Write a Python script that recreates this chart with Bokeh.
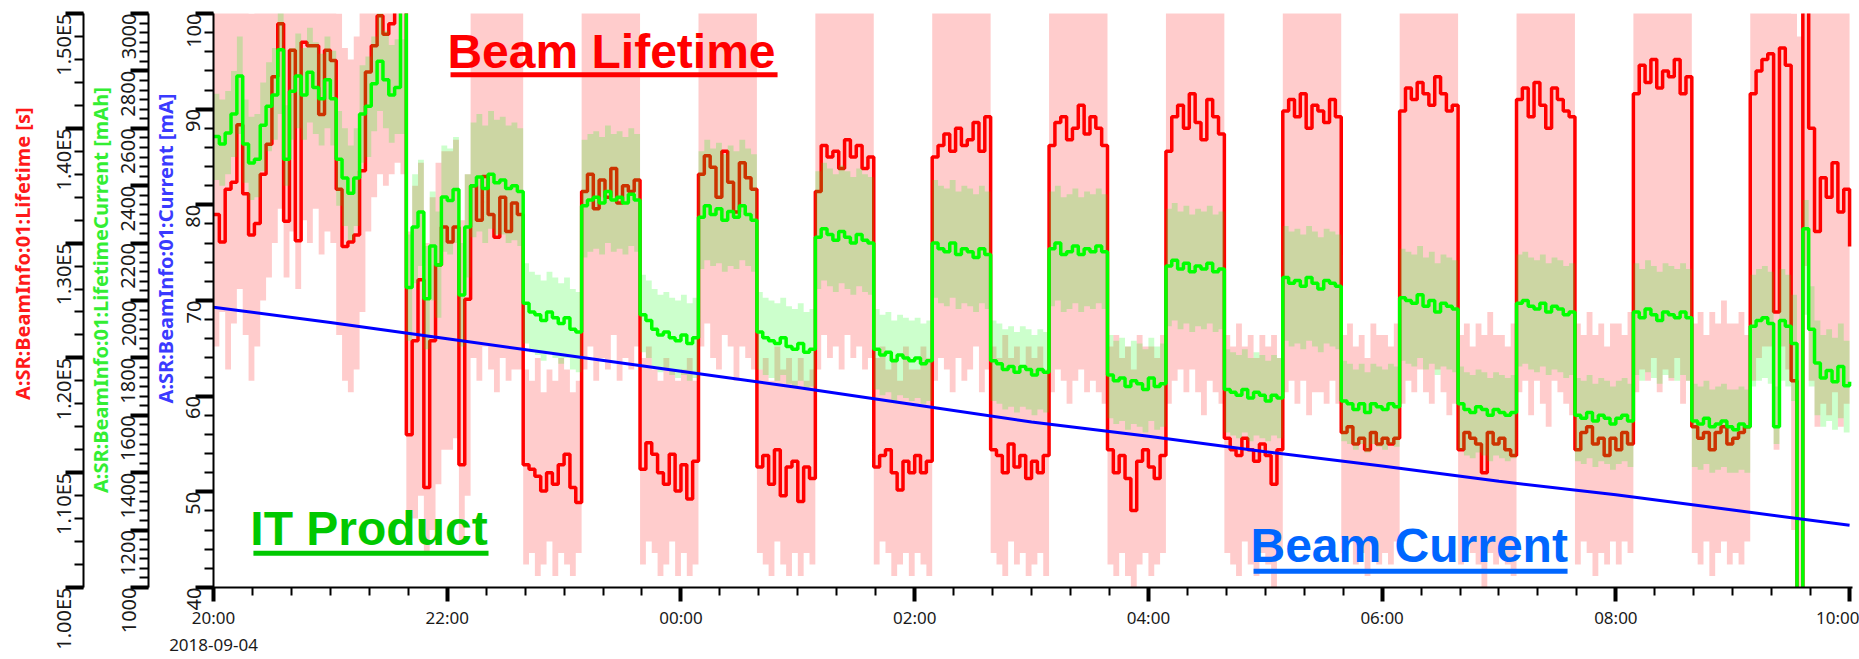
import math
from bokeh.plotting import figure
from bokeh.models import Range1d, LinearAxis, FixedTicker, Label, BoxAnnotation
from bokeh.embed import file_html
from bokeh.resources import INLINE

# sample times: minutes after 2018-09-04 20:00 (3-minute archive samples)
T_MIN = list(range(0, 841, 3))

# Beam lifetime [ks] (1.00E5 s = 100)
LIFETIME = [
    132.5, 130.1, 134.7, 135.3, 140.3, 134.3, 130.7, 131.7, 136.0, 138.6, 144.5, 149.1, 131.9, 146.8, 130.2, 147.5, 147.2, 147.2, 141.2, 146.8,
    145.9, 134.7, 129.7, 130.1, 130.7, 136.3, 144.9, 147.2, 149.8, 148.2, 149.1, 150.5, 151.5, 113.3, 121.5, 126.8, 108.7, 121.5, 128.1, 131.4,
    130.1, 131.4, 110.7, 125.1, 135.0, 132.0, 135.8, 132.5, 130.5, 134.0, 131.0, 133.5, 132.5, 110.7, 110.3, 109.7, 108.4, 110.0, 109.0, 110.7,
    111.6, 108.7, 107.4, 134.5, 136.0, 133.0, 135.5, 134.0, 136.5, 133.5, 135.0, 134.5, 135.5, 110.3, 112.6, 111.6, 110.0, 109.0, 111.6, 108.4,
    110.7, 107.7, 111.0, 136.0, 137.6, 136.6, 134.0, 138.0, 135.3, 132.7, 137.0, 135.7, 134.7, 110.5, 111.5, 109.0, 112.0, 108.0, 110.5, 111.0,
    107.5, 110.5, 109.5, 134.5, 138.5, 137.5, 138.0, 136.5, 139.0, 137.5, 138.5, 136.5, 137.5, 110.5, 111.5, 112.0, 110.0, 108.5, 111.0, 110.0,
    111.5, 110.0, 111.0, 137.5, 138.5, 139.5, 138.0, 140.0, 138.5, 139.0, 140.5, 138.0, 141.0, 112.0, 111.5, 110.0, 112.5, 110.5, 111.5, 109.5,
    111.0, 110.0, 111.5, 138.5, 140.5, 141.0, 139.0, 140.0, 142.0, 139.5, 141.0, 140.0, 138.5, 112.0, 110.0, 111.5, 109.5, 106.7, 111.0, 112.0,
    110.5, 109.5, 111.5, 138.0, 141.0, 142.0, 140.0, 143.0, 140.5, 139.0, 142.5, 141.0, 139.5, 113.0, 112.0, 111.5, 113.0, 112.0, 111.0, 112.5,
    111.5, 109.0, 112.0, 141.5, 142.5, 141.0, 143.0, 140.0, 142.0, 141.5, 140.5, 142.5, 141.0, 113.5, 114.0, 112.5, 113.0, 112.0, 113.5, 112.5,
    113.0, 112.5, 113.0, 141.5, 143.5, 142.5, 144.0, 143.0, 142.0, 144.5, 143.0, 141.5, 142.0, 112.0, 113.5, 113.0, 112.5, 110.0, 113.5, 112.5,
    113.0, 112.0, 111.5, 142.5, 143.5, 141.0, 144.0, 142.0, 140.0, 143.5, 142.5, 141.5, 141.0, 112.0, 113.5, 114.0, 112.5, 113.0, 111.5, 113.0,
    112.0, 113.5, 112.5, 143.0, 145.5, 144.0, 146.0, 143.5, 145.0, 144.5, 146.0, 143.0, 144.5, 114.0, 113.0, 113.5, 112.0, 113.5, 114.0, 112.5,
    113.0, 113.5, 114.0, 143.0, 145.0, 146.0, 146.5, 124.0, 147.0, 145.5, 118.0, 99.0, 151.0, 140.0, 131.0, 135.7, 134.0, 137.0, 132.7, 134.7, 129.7,
]
LIFETIME_MIN = [
    121, 124, 119, 123, 126, 122, 118, 121, 125, 127, 130, 133, 127, 131, 126, 132, 130, 133, 129, 131,
    130, 122, 118, 117, 119, 124, 131, 134, 136, 135, 136, 137, 136, 104, 106, 108, 103, 105, 109, 112,
    112, 113, 104, 108, 120, 118, 121, 119, 117, 120, 118, 119, 119, 102, 103, 101, 102, 104, 101, 103,
    102, 101, 103, 119, 121, 118, 120, 119, 122, 118, 120, 119, 121, 102, 104, 103, 101, 102, 104, 101,
    103, 101, 102, 121, 123, 120, 119, 122, 121, 118, 121, 120, 119, 103, 102, 101, 104, 102, 101, 103,
    101, 103, 102, 119, 122, 120, 121, 119, 122, 120, 121, 119, 120, 102, 104, 103, 101, 102, 103, 101,
    103, 102, 101, 118, 120, 119, 117, 120, 118, 119, 121, 117, 119, 103, 102, 101, 104, 102, 103, 101,
    102, 103, 101, 117, 119, 118, 116, 118, 119, 117, 118, 117, 116, 102, 101, 103, 101, 100, 102, 103,
    101, 102, 103, 116, 118, 119, 117, 119, 117, 115, 118, 117, 116, 103, 102, 101, 104, 102, 101, 103,
    102, 100, 103, 117, 118, 116, 118, 115, 117, 117, 116, 118, 116, 103, 104, 102, 103, 101, 104, 102,
    103, 102, 104, 116, 118, 117, 119, 117, 116, 119, 117, 115, 116, 102, 104, 103, 102, 100, 103, 102,
    103, 102, 101, 117, 118, 115, 118, 116, 114, 118, 117, 116, 115, 102, 104, 103, 101, 103, 102, 104,
    102, 104, 103, 117, 119, 118, 120, 117, 119, 118, 120, 116, 118, 103, 102, 104, 101, 103, 104, 102,
    103, 102, 104, 118, 120, 121, 121, 112, 121, 119, 105, 99, 128, 118, 114, 116, 115, 117, 114, 116, 113,
]
LIFETIME_MAX = [
    152, 151, 152, 152, 152, 152, 150, 152, 152, 152, 152, 152, 152, 152, 152, 152, 152, 152, 152, 152,
    152, 150, 147, 146, 148, 151, 152, 152, 152, 152, 152, 152, 152, 131, 135, 137, 130, 134, 137, 138,
    138, 139, 132, 136, 152, 152, 152, 152, 152, 152, 152, 152, 152, 119, 118, 120, 117, 119, 118, 120,
    119, 117, 118, 152, 152, 152, 152, 152, 152, 152, 152, 152, 152, 120, 121, 119, 118, 120, 119, 118,
    119, 120, 118, 152, 152, 152, 152, 152, 152, 152, 152, 152, 152, 119, 120, 118, 121, 119, 120, 118,
    120, 118, 119, 152, 152, 152, 152, 152, 152, 152, 152, 152, 152, 120, 121, 119, 120, 118, 121, 119,
    119, 121, 120, 152, 152, 152, 152, 152, 152, 152, 152, 152, 152, 121, 120, 122, 120, 121, 119, 121,
    120, 121, 119, 152, 152, 152, 152, 152, 152, 152, 152, 152, 152, 121, 122, 120, 121, 119, 122, 121,
    121, 120, 122, 152, 152, 152, 152, 152, 152, 152, 152, 152, 152, 122, 121, 123, 121, 122, 120, 122,
    121, 122, 120, 152, 152, 152, 152, 152, 152, 152, 152, 152, 152, 122, 123, 121, 122, 120, 123, 122,
    122, 121, 123, 152, 152, 152, 152, 152, 152, 152, 152, 152, 152, 122, 123, 121, 123, 122, 124, 122,
    122, 121, 123, 152, 152, 152, 152, 152, 152, 152, 152, 152, 152, 123, 122, 124, 122, 123, 121, 123,
    123, 122, 124, 152, 152, 152, 152, 152, 152, 152, 152, 152, 152, 123, 124, 122, 124, 123, 125, 123,
    123, 124, 122, 152, 152, 152, 152, 152, 152, 152, 150, 148, 152, 152, 152, 152, 152, 152, 152, 152, 152, 152,
]

# Lifetime current (IT product) [mAh]
IT_PRODUCT = [
    2571, 2545, 2584, 2650, 2782, 2545, 2479, 2492, 2611, 2677, 2716, 2874, 2492, 2729, 2782, 2716, 2795, 2742, 2703, 2769,
    2703, 2492, 2427, 2374, 2427, 2650, 2677, 2755, 2834, 2769, 2716, 2742, 3050, 2045, 2256, 2308, 2006, 2190, 2124, 2361,
    2348, 2387, 2019, 2256, 2400, 2430, 2390, 2440, 2410, 2420, 2390, 2400, 2380, 1990, 1960, 1950, 1930, 1960, 1940, 1920,
    1940, 1900, 1890, 2330, 2350, 2360, 2340, 2380, 2350, 2360, 2340, 2370, 2350, 1950, 1930, 1900, 1880, 1890, 1870, 1860,
    1880, 1850, 1870, 2290, 2330, 2300, 2320, 2280, 2310, 2290, 2330, 2300, 2280, 1890, 1870, 1860, 1850, 1870, 1840, 1830,
    1850, 1820, 1830, 2220, 2250, 2230, 2210, 2240, 2220, 2200, 2230, 2210, 2200, 1830, 1810, 1820, 1790, 1810, 1800, 1790,
    1800, 1780, 1790, 2200, 2180, 2170, 2200, 2160, 2180, 2170, 2150, 2180, 2160, 1790, 1780, 1760, 1770, 1750, 1770, 1760,
    1740, 1760, 1750, 2180, 2200, 2160, 2170, 2190, 2160, 2180, 2170, 2190, 2170, 1740, 1720, 1730, 1700, 1720, 1710, 1690,
    1730, 1700, 1710, 2120, 2140, 2110, 2130, 2100, 2120, 2110, 2130, 2100, 2110, 1690, 1680, 1670, 1690, 1660, 1680, 1670,
    1650, 1670, 1660, 2080, 2060, 2070, 2050, 2080, 2060, 2040, 2070, 2060, 2050, 1650, 1640, 1620, 1640, 1610, 1640, 1630,
    1620, 1640, 1630, 2010, 2000, 1990, 2020, 1980, 2000, 1960, 1990, 1980, 1970, 1640, 1620, 1610, 1630, 1620, 1600, 1620,
    1610, 1600, 1610, 1990, 2000, 1980, 1970, 1990, 1960, 1980, 1970, 1950, 1960, 1600, 1590, 1610, 1580, 1600, 1590, 1570,
    1590, 1600, 1580, 1960, 1940, 1970, 1950, 1930, 1960, 1950, 1940, 1960, 1940, 1580, 1570, 1590, 1560, 1570, 1580, 1560,
    1550, 1570, 1560, 1910, 1930, 1940, 1920, 1560, 1930, 1910, 1850, 990, 2250, 1900, 1782, 1730, 1756, 1717, 1770, 1703, 1717,
]
IT_MIN = [
    2420, 2400, 2440, 2500, 2580, 2410, 2350, 2360, 2450, 2520, 2560, 2650, 2400, 2560, 2600, 2560, 2620, 2580, 2540, 2600,
    2540, 2330, 2260, 2210, 2260, 2480, 2500, 2590, 2660, 2600, 2550, 2580, 2580, 1860, 2060, 2120, 1830, 2000, 1940, 2170,
    2160, 2200, 1840, 2080, 2220, 2240, 2200, 2250, 2230, 2230, 2200, 2210, 2190, 1850, 1820, 1810, 1790, 1820, 1800, 1780,
    1800, 1760, 1750, 2150, 2170, 2180, 2160, 2200, 2170, 2180, 2160, 2190, 2170, 1820, 1800, 1770, 1750, 1760, 1740, 1730,
    1740, 1720, 1730, 2110, 2140, 2120, 2130, 2100, 2120, 2110, 2140, 2120, 2100, 1760, 1740, 1730, 1720, 1740, 1710, 1700,
    1720, 1690, 1700, 2040, 2070, 2050, 2030, 2060, 2040, 2020, 2050, 2030, 2020, 1690, 1670, 1680, 1650, 1670, 1660, 1650,
    1660, 1640, 1650, 2010, 1990, 1980, 2010, 1970, 1990, 1980, 1960, 1990, 1970, 1650, 1640, 1620, 1630, 1610, 1630, 1620,
    1600, 1620, 1610, 1980, 2000, 1960, 1970, 1990, 1960, 1980, 1970, 1990, 1970, 1590, 1570, 1580, 1550, 1570, 1560, 1540,
    1580, 1550, 1560, 1910, 1930, 1900, 1920, 1890, 1910, 1900, 1920, 1890, 1900, 1540, 1530, 1520, 1540, 1510, 1530, 1520,
    1510, 1530, 1520, 1860, 1840, 1850, 1830, 1860, 1840, 1820, 1850, 1840, 1830, 1510, 1500, 1480, 1500, 1470, 1500, 1490,
    1480, 1500, 1490, 1790, 1780, 1770, 1800, 1760, 1780, 1740, 1770, 1760, 1750, 1480, 1460, 1450, 1470, 1460, 1440, 1460,
    1450, 1440, 1450, 1770, 1780, 1760, 1750, 1770, 1740, 1760, 1750, 1730, 1740, 1440, 1430, 1450, 1420, 1440, 1430, 1410,
    1430, 1440, 1420, 1740, 1720, 1750, 1730, 1710, 1740, 1730, 1720, 1740, 1720, 1420, 1410, 1430, 1400, 1410, 1420, 1400,
    1400, 1410, 1400, 1700, 1720, 1730, 1710, 1500, 1720, 1700, 1650, 990, 1950, 1700, 1600, 1560, 1580, 1550, 1590, 1540, 1550,
]
IT_MAX = [
    2720, 2700, 2730, 2800, 2920, 2700, 2640, 2650, 2760, 2830, 2880, 3010, 2680, 2880, 2930, 2880, 2950, 2900, 2860, 2920,
    2870, 2660, 2600, 2540, 2600, 2820, 2850, 2920, 3010, 2940, 2890, 2910, 2910, 2230, 2440, 2490, 2190, 2380, 2310, 2540,
    2530, 2570, 2200, 2440, 2620, 2650, 2610, 2660, 2630, 2640, 2610, 2620, 2600, 2130, 2100, 2090, 2070, 2100, 2080, 2060,
    2080, 2040, 2030, 2560, 2580, 2590, 2570, 2610, 2580, 2590, 2570, 2600, 2580, 2090, 2070, 2040, 2020, 2030, 2010, 2000,
    2020, 1990, 2010, 2520, 2560, 2530, 2550, 2510, 2540, 2520, 2560, 2530, 2510, 2030, 2010, 2000, 1990, 2010, 1980, 1970,
    1990, 1960, 1970, 2450, 2480, 2460, 2440, 2470, 2450, 2430, 2460, 2440, 2430, 1970, 1950, 1960, 1930, 1950, 1940, 1930,
    1940, 1920, 1930, 2420, 2400, 2390, 2420, 2380, 2400, 2390, 2370, 2400, 2380, 1930, 1920, 1900, 1910, 1890, 1910, 1900,
    1880, 1900, 1890, 2380, 2400, 2360, 2370, 2390, 2360, 2380, 2370, 2390, 2370, 1880, 1860, 1870, 1840, 1860, 1850, 1830,
    1870, 1840, 1850, 2320, 2340, 2310, 2330, 2300, 2320, 2310, 2330, 2300, 2310, 1830, 1820, 1810, 1830, 1800, 1820, 1810,
    1790, 1810, 1800, 2260, 2240, 2250, 2230, 2260, 2240, 2220, 2250, 2240, 2230, 1790, 1780, 1760, 1780, 1750, 1780, 1770,
    1760, 1780, 1770, 2180, 2170, 2160, 2190, 2150, 2170, 2130, 2160, 2150, 2140, 1770, 1750, 1740, 1760, 1750, 1730, 1750,
    1740, 1730, 1740, 2160, 2170, 2150, 2140, 2160, 2130, 2150, 2140, 2120, 2130, 1730, 1720, 1740, 1710, 1730, 1720, 1700,
    1720, 1730, 1710, 2130, 2110, 2140, 2120, 2100, 2130, 2120, 2110, 2130, 2110, 1710, 1700, 1720, 1690, 1700, 1710, 1690,
    1690, 1700, 1690, 2090, 2110, 2120, 2100, 1700, 2110, 2090, 2020, 990, 2350, 2050, 1930, 1880, 1900, 1870, 1920, 1860, 1870,
]

# Beam current [mA], hourly readings
CURRENT_T = [0, 60, 120, 180, 240, 300, 360, 420, 480, 540, 600, 660, 720, 780, 840]
CURRENT_MA = [69.3, 67.7, 66.0, 64.3, 62.6, 60.9, 59.1, 57.3, 55.8, 54.2, 52.7, 51.1, 49.7, 48.1, 46.5]

X_TICKS = [0, 120, 240, 360, 480, 600, 720, 840]
X_LABELS = ["20:00\n2018-09-04", "22:00", "00:00", "02:00", "04:00", "06:00", "08:00", "10:00"]
LT_TICKS = [100, 110, 120, 130, 140, 150]
LT_LABELS = ["1.00E5", "1.10E5", "1.20E5", "1.30E5", "1.40E5", "1.50E5"]
IT_TICKS = [1000, 1200, 1400, 1600, 1800, 2000, 2200, 2400, 2600, 2800, 3000]
MA_TICKS = [40, 50, 60, 70, 80, 90, 100]

FONT = "Noto Sans"
NB = "\u00a0"

p = figure(width=1859, height=659, x_range=Range1d(0, 841.5), y_range=Range1d(40, 100),
           output_backend="svg", toolbar_location=None,
           min_border_left=213, min_border_right=7, min_border_top=13, min_border_bottom=64)
p.outline_line_color = None
p.xgrid.visible = False
p.ygrid.visible = False
p.background_fill_color = "white"
p.border_fill_color = "white"

p.extra_y_ranges = {"it": Range1d(1000, 3000), "lt": Range1d(100, 150)}


def style_axis(ax, color, title):
    ax.axis_line_width = 2
    ax.axis_line_color = "black"
    ax.major_tick_in = 0
    ax.major_tick_out = 18
    ax.major_tick_line_width = 4
    ax.minor_tick_in = 0
    ax.minor_tick_out = 9
    ax.minor_tick_line_width = 2
    ax.major_label_text_font = FONT
    ax.major_label_text_font_size = "20px"
    ax.major_label_text_color = "#1a1a1a"
    ax.major_label_standoff = 2
    ax.major_label_orientation = math.pi / 2
    ax.axis_label = title
    ax.axis_label_text_font = FONT
    ax.axis_label_text_font_style = "bold"
    ax.axis_label_text_font_size = "20px"
    ax.axis_label_text_color = color
    ax.axis_label_standoff = -2


# main (inner) axis: beam current mA
ay = p.yaxis[0]
ay.ticker = FixedTicker(ticks=MA_TICKS, minor_ticks=[40 + 2 * i for i in range(31)])
style_axis(ay, "#3a3aff", NB * 20 + "A:SR:BeamInfo:01:Current [mA]")

ag = LinearAxis(y_range_name="it",
                ticker=FixedTicker(ticks=IT_TICKS, minor_ticks=[1000 + 200 * i / 6 for i in range(61)]))
style_axis(ag, "#33ee33", NB * 4 + "A:SR:BeamInfo:01:LifetimeCurrent [mAh]")
p.add_layout(ag, "left")

ar = LinearAxis(y_range_name="lt",
                ticker=FixedTicker(ticks=LT_TICKS, minor_ticks=[100 + 2 * i for i in range(26)]))
style_axis(ar, "#ff1a1a", NB * 18 + "A:SR:BeamInfo:01:Lifetime [s]")
ar.major_label_overrides = {k: v for k, v in zip(LT_TICKS, LT_LABELS)}
p.add_layout(ar, "left")

ax = p.xaxis[0]
ax.ticker = FixedTicker(ticks=X_TICKS, minor_ticks=[20 * i for i in range(43)])
ax.major_label_overrides = {k: v for k, v in zip(X_TICKS, X_LABELS)}
ax.axis_line_width = 2
ax.major_tick_in = 0
ax.major_tick_out = 14
ax.major_tick_line_width = 4
ax.minor_tick_in = 0
ax.minor_tick_out = 8
ax.minor_tick_line_width = 2
ax.major_label_text_font = FONT
ax.major_label_text_font_size = "17px"
ax.major_label_text_color = "#1a1a1a"
ax.major_label_standoff = 4

# lifetime band + line
p.varea_step(x=T_MIN, y1=LIFETIME_MIN, y2=LIFETIME_MAX, step_mode="after",
             y_range_name="lt", fill_color="#ff0000", fill_alpha=0.2)
p.step(T_MIN, LIFETIME, mode="after", y_range_name="lt", line_color="#ff0000", line_width=3.5)

# IT product band + line
p.varea_step(x=T_MIN, y1=IT_MIN, y2=IT_MAX, step_mode="after",
             y_range_name="it", fill_color="#00ff00", fill_alpha=0.2)
p.step(T_MIN, IT_PRODUCT, mode="after", y_range_name="it", line_color="#00ff00", line_width=3.5)

# beam current
p.line(CURRENT_T, CURRENT_MA, line_color="#0000ff", line_width=3)


# annotations
def big_label(x_text, y_text, text, color, x_left, x_right, ul_top, ul_bottom):
    p.add_layout(Label(x=x_text, y=y_text, text=text, text_font="Liberation Sans", text_font_style="bold",
                       text_font_size="48px", text_color=color, text_baseline="alphabetic",
                       text_align="left"))
    p.add_layout(BoxAnnotation(left=x_left, right=x_right, top=ul_top, bottom=ul_bottom,
                               fill_color=color, fill_alpha=1.0, line_color=None))


big_label(120.1, 96.0, "Beam Lifetime", "#ff0000", 121.7, 289.6, 93.85, 93.33)
big_label(18.9, 46.2, "IT Product", "#00c800", 20.5, 141.2, 43.85, 43.33)
big_label(532.4, 44.4, "Beam Current", "#0066ff", 534.0, 695.2, 41.95, 41.43)

open("out.html", "w").write(file_html(p, INLINE))
